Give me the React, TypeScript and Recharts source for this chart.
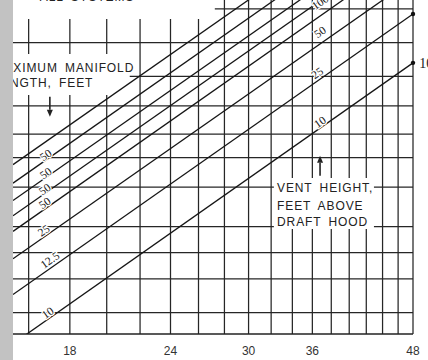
import {
  CartesianGrid,
  ComposedChart,
  Line,
  ReferenceArea,
  ReferenceDot,
  Scatter,
  XAxis,
  YAxis,
} from 'recharts';

// log grid, every 2 across, uneven steps up
const xGrid = [16, 18, 20, 22, 24, 26, 28, 30, 32, 34, 36, 38, 40, 42, 44, 46, 48];
const xTickLabels = [18, 24, 30, 36, 48];
const yGrid = [50, 60, 70, 80, 90, 100, 125, 150, 175, 200, 225, 250, 275, 300, 350, 400, 450, 500, 600, 700, 800];

// each sloped line read at the left edge (x ~15.3) and at x = 48
const lineStart = [46, 70, 95, 120, 137, 156, 181, 212];
const lineEnd = [505, 766, 1033, 1312, 1491, 1694, 1975, 2303];

// manifold length labels (left) and vent height labels (right)
const lengthLabels = ['10', '12.5', '25', '50', '50', '50', '50'];
const lengthLabelX = [16.9, 17.0, 16.7, 16.75, 16.75, 16.8, 16.8];
const lengthLabelY = [60, 94, 121, 153, 172, 197, 230];

const heightLabels = ['10', '25', '50', '100'];
const heightLabelX = [36.8, 36.5, 36.8, 36.8];
const heightLabelY = [305, 463, 657, 848];

const X_MIN = 15.3;
const X_MAX = 48;

const notes = [
  { x: 14.47, y: 467, t: 'MAXIMUM MANIFOLD' },
  { x: 14.47, y: 411, t: 'LENGTH, FEET' },
  { x: 32.54, y: 168, t: 'VENT HEIGHT,' },
  { x: 32.54, y: 144, t: 'FEET ABOVE' },
  { x: 32.54, y: 125.6, t: 'DRAFT HOOD' },
  { x: 16.52, y: 855, t: 'ALL SYSTEMS' },
];

const arrows = [
  { x: 17.0, y: 347, dir: 'down' },
  { x: 36.8, y: 210, dir: 'up' },
];

const lineLabels = [
  ...lengthLabels.map((t, i) => ({ x: lengthLabelX[i], y: lengthLabelY[i], t })),
  ...heightLabels.map((t, i) => ({ x: heightLabelX[i], y: heightLabelY[i], t })),
];

const ink = '#222';

function SlopeText(p: any) {
  return (
    <text
      x={p.cx}
      y={p.cy}
      transform={`rotate(-35 ${p.cx} ${p.cy})`}
      textAnchor="middle"
      dominantBaseline="central"
      fontFamily="Liberation Serif"
      fontSize={11.5}
      fill={ink}
      stroke="#fff"
      strokeWidth={2.5}
      paintOrder="stroke"
    >
      {p.payload.t}
    </text>
  );
}

function NoteText(p: any) {
  return (
    <text
      x={p.cx}
      y={p.cy}
      fontFamily="Liberation Sans"
      fontSize={12}
      letterSpacing={0.9}
      wordSpacing={3}
      fill={ink}
    >
      {p.payload.t}
    </text>
  );
}

function Arrow(p: any) {
  const { cx, cy } = p;
  const down = p.payload.dir === 'down';
  const tip = down ? cy + 10 : cy - 10;
  const base = down ? tip - 7 : tip + 7;
  return (
    <g>
      <line x1={cx} x2={cx} y1={down ? cy - 10 : cy + 10} y2={base} stroke={ink} strokeWidth={1.6} />
      <polygon points={`${cx - 3},${base} ${cx + 3},${base} ${cx},${tip}`} fill={ink} />
    </g>
  );
}

export default function App() {
  return (
    <div style={{ position: 'absolute', left: 0, top: 0, width: 428, height: 360, background: '#fff' }}>
      <ComposedChart width={428} height={360} margin={{ top: 0, right: 15, bottom: 0, left: 13 }}>
        <CartesianGrid horizontalValues={yGrid} verticalValues={xGrid} stroke="#262626" strokeWidth={1.25} />
        <XAxis
          type="number"
          dataKey="x"
          scale="log"
          domain={[X_MIN, X_MAX]}
          allowDataOverflow
          ticks={xGrid}
          interval={0}
          tickFormatter={(v: number) => (xTickLabels.includes(v) ? String(v) : '')}
          tickLine={false}
          tickMargin={6}
          axisLine={{ stroke: ink, strokeWidth: 1.4 }}
          tick={{ fill: '#333', fontSize: 12, fontFamily: 'Liberation Sans' }}
          height={26}
        />
        <YAxis type="number" scale="log" domain={[50, 863]} ticks={yGrid} allowDataOverflow hide />

        {/* white label panels that break the grid */}
        <ReferenceArea x1={X_MIN} x2={21.8} y1={483} y2={545} fill="#fff" fillOpacity={1} stroke="none" />
        <ReferenceArea x1={X_MIN} x2={21.36} y1={432.6} y2={483} fill="#fff" fillOpacity={1} stroke="none" />
        <ReferenceArea x1={X_MIN} x2={20.29} y1={384} y2={432.6} fill="#fff" fillOpacity={1} stroke="none" />
        <ReferenceArea x1={32.25} x2={42.93} y1={122.4} y2={189} fill="#fff" fillOpacity={1} stroke="none" />
        <ReferenceArea x1={X_MIN} x2={27.24} y1={734} y2={863} fill="#fff" fillOpacity={1} stroke="none" />

        {lineStart.map((s, i) => (
          <Line
            key={i}
            data={[
              { x: X_MIN, y: s },
              { x: X_MAX, y: lineEnd[i] },
            ]}
            dataKey="y"
            type="linear"
            stroke="#161616"
            strokeWidth={1.3}
            dot={false}
            isAnimationActive={false}
          />
        ))}

        <ReferenceDot
          x={X_MAX}
          y={lineEnd[0]}
          r={2.2}
          fill="#111"
          stroke="none"
          label={{ value: '10', position: 'right', offset: 4, fill: ink, fontSize: 14, fontFamily: 'Liberation Serif' }}
        />
        <ReferenceDot x={X_MAX} y={lineEnd[1]} r={2.2} fill="#111" stroke="none" />

        <Scatter data={lineLabels} dataKey="y" shape={SlopeText} isAnimationActive={false} />
        <Scatter data={notes} dataKey="y" shape={NoteText} isAnimationActive={false} />
        <Scatter data={arrows} dataKey="y" shape={Arrow} isAnimationActive={false} />
      </ComposedChart>
      <div style={{ position: 'absolute', left: 0, top: 0, width: 13, height: 360, background: '#c2c2c2' }} />
    </div>
  );
}
